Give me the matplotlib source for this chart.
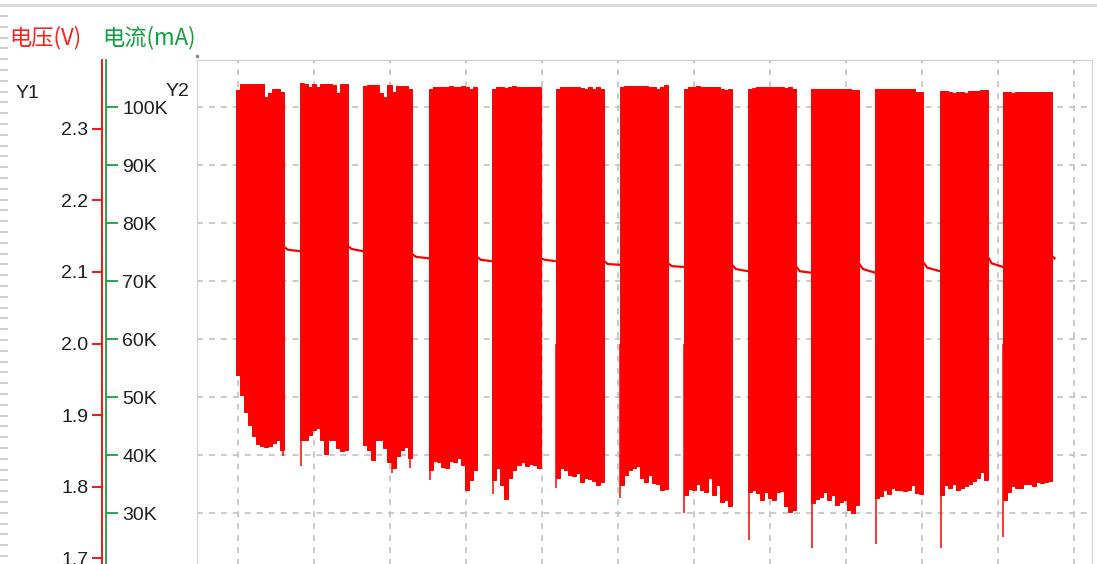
import numpy as np
import matplotlib
matplotlib.use('Agg')
import matplotlib.pyplot as plt
from matplotlib.lines import Line2D

plt.rcParams['font.family'] = ['Liberation Sans', 'DejaVu Sans']
plt.rcParams['lines.scale_dashes'] = False

# ---------------- data (time in s, voltage in V) ----------------
block_start = [-0.26, 8.16, 16.45, 25.13, 33.42, 41.84, 50.26, 58.68, 67.11, 75.39, 83.82, 92.37, 100.66]
block_end = [6.05, 14.47, 22.89, 31.45, 39.87, 48.16, 56.58, 65.00, 73.42, 81.71, 90.13, 98.68, 107.11]

block_top = [
    [2.354, 2.362, 2.362, 2.362, 2.362, 2.362, 2.362, 2.344, 2.350, 2.356, 2.355, 2.352],
    [2.364, 2.362, 2.358, 2.362, 2.358, 2.362, 2.362, 2.362, 2.361, 2.350, 2.362, 2.362],
    [2.360, 2.361, 2.361, 2.361, 2.350, 2.345, 2.361, 2.352, 2.360, 2.360, 2.360, 2.356],
    [2.356, 2.358, 2.358, 2.358, 2.358, 2.359, 2.358, 2.358, 2.360, 2.358, 2.356, 2.358],
    [2.356, 2.358, 2.358, 2.357, 2.358, 2.359, 2.358, 2.358, 2.358, 2.358, 2.358, 2.358],
    [2.356, 2.358, 2.358, 2.358, 2.358, 2.358, 2.357, 2.356, 2.358, 2.356, 2.358, 2.356],
    [2.358, 2.359, 2.359, 2.359, 2.359, 2.359, 2.359, 2.358, 2.358, 2.356, 2.358, 2.361],
    [2.356, 2.358, 2.358, 2.359, 2.358, 2.358, 2.358, 2.358, 2.358, 2.356, 2.354, 2.356],
    [2.356, 2.357, 2.358, 2.358, 2.358, 2.358, 2.358, 2.358, 2.358, 2.357, 2.358, 2.356],
    [2.355, 2.355, 2.356, 2.356, 2.356, 2.356, 2.355, 2.356, 2.356, 2.356, 2.354, 2.354],
    [2.355, 2.355, 2.355, 2.356, 2.355, 2.356, 2.356, 2.355, 2.355, 2.356, 2.352, 2.351],
    [2.353, 2.353, 2.352, 2.350, 2.352, 2.352, 2.350, 2.353, 2.353, 2.353, 2.354, 2.354],
    [2.351, 2.351, 2.350, 2.351, 2.351, 2.352, 2.352, 2.352, 2.352, 2.352, 2.351, 2.351],
]

block_bottom = [
    [1.956, 1.928, 1.904, 1.886, 1.871, 1.860, 1.857, 1.856, 1.857, 1.861, 1.865, 1.851],
    [1.865, 1.865, 1.872, 1.879, 1.882, 1.865, 1.846, 1.865, 1.865, 1.854, 1.850, 1.851],
    [1.858, 1.851, 1.837, 1.865, 1.865, 1.854, 1.834, 1.826, 1.843, 1.851, 1.855, 1.840],
    [1.823, 1.836, 1.834, 1.828, 1.826, 1.836, 1.834, 1.840, 1.830, 1.795, 1.809, 1.823],
    [1.809, 1.826, 1.802, 1.783, 1.812, 1.823, 1.830, 1.835, 1.829, 1.832, 1.830, 1.826],
    [1.812, 1.826, 1.823, 1.816, 1.815, 1.819, 1.807, 1.812, 1.811, 1.808, 1.802, 1.807],
    [1.802, 1.816, 1.823, 1.826, 1.829, 1.812, 1.807, 1.816, 1.805, 1.804, 1.795, 1.797],
    [1.788, 1.797, 1.795, 1.804, 1.795, 1.793, 1.812, 1.788, 1.802, 1.779, 1.781, 1.773],
    [1.793, 1.795, 1.791, 1.781, 1.793, 1.784, 1.781, 1.793, 1.794, 1.773, 1.765, 1.768],
    [1.777, 1.783, 1.786, 1.793, 1.781, 1.788, 1.775, 1.779, 1.781, 1.767, 1.763, 1.775],
    [1.784, 1.787, 1.795, 1.790, 1.798, 1.795, 1.795, 1.794, 1.795, 1.802, 1.791, 1.790],
    [1.788, 1.802, 1.798, 1.804, 1.795, 1.798, 1.801, 1.804, 1.808, 1.812, 1.820, 1.809],
    [1.781, 1.793, 1.801, 1.798, 1.798, 1.804, 1.804, 1.801, 1.807, 1.805, 1.807, 1.808],
]

# idle level between bursts: just after burst, after settling, before next burst
gap_v0 = [2.135, 2.136, 2.125, 2.121, 2.119, 2.115, 2.112, 2.110, 2.108, 2.112, 2.114, 2.121]
gap_v1 = [2.131, 2.132, 2.121, 2.117, 2.117, 2.111, 2.108, 2.104, 2.101, 2.104, 2.106, 2.112]
gap_v2 = [2.129, 2.129, 2.119, 2.115, 2.115, 2.110, 2.107, 2.101, 2.099, 2.099, 2.101, 2.107]
tail_t = [107.11, 107.45]
tail_v = [2.122, 2.119]

spike_t = [5.86, 8.29, 20.26, 22.63, 25.20, 33.55, 41.90, 50.30, 58.75, 67.24, 75.53, 83.95, 92.50, 100.72]
spike_v = [1.843, 1.829, 1.819, 1.826, 1.809, 1.790, 1.798, 1.784, 1.763, 1.726, 1.714, 1.720, 1.714, 1.730]

y1_ticks = [1.7, 1.8, 1.9, 2.0, 2.1, 2.2, 2.3]
y1_labels = ['1.7', '1.8', '1.9', '2.0', '2.1', '2.2', '2.3']
y2_ticks = [20, 30, 40, 50, 60, 70, 80, 90, 100]
y2_labels = ['20K', '30K', '40K', '50K', '60K', '70K', '80K', '90K', '100K']
x_grid = [0, 10, 20, 30, 40, 50, 60, 70, 80, 90, 100, 110]

# ---------------- layout ----------------
W, H = 1097, 564
fig = plt.figure(figsize=(W / 100, H / 100), dpi=100)
fig.patch.set_facecolor('white')

def fx(px):
    return px / W

def fy(py):
    return 1 - py / H

L, R, T, B = 197, 1092, 60, 620
RED = '#ff0000'
GREEN = '#12a040'
BORDER = '#d2d2d2'
GRID = '#c6c6c6'
TXT = '#1e1e1e'

ax_k = fig.add_axes([fx(L), fy(B), (R - L) / W, (B - T) / H])
ax_k.set_xlim(-5.395, 112.37)
ax_k.set_ylim(11.60, 108.16)
ax_v = ax_k.twinx()
ax_v.set_ylim(1.6139, 2.3960)

# grid on the K axis (below the data)
ax_k.set_xticks(x_grid)
ax_k.set_yticks(y2_ticks)
ax_k.set_yticklabels(y2_labels)
ax_k.grid(True, color=GRID, linestyle=(0, (4.3, 4.3)), linewidth=1.3)
ax_k.tick_params(axis='x', length=0, labelbottom=False)
ax_k.yaxis.tick_right()
ax_k.spines['right'].set_position(('axes', (106 - L) / (R - L)))
ax_k.spines['right'].set_color(GREEN)
ax_k.spines['right'].set_linewidth(1.3)
ax_k.tick_params(axis='y', direction='out', length=8.4, width=1.3, color=GREEN,
                 pad=3.4, labelsize=14, labelcolor=TXT)
ax_k.spines['left'].set_color(BORDER)
ax_k.spines['top'].set_color(BORDER)
ax_k.spines['bottom'].set_visible(False)

# voltage axis
ax_v.yaxis.tick_left()
ax_v.set_yticks(y1_ticks)
ax_v.set_yticklabels(y1_labels)
ax_v.spines['left'].set_position(('axes', (102 - L) / (R - L)))
ax_v.spines['left'].set_color(RED)
ax_v.spines['left'].set_linewidth(1.3)
ax_v.tick_params(axis='y', direction='out', length=7.4, width=1.3, color=RED,
                 pad=2.4, labelsize=14, labelcolor=TXT)
ax_v.spines['right'].set_color(BORDER)
ax_v.spines['top'].set_color(BORDER)
ax_v.spines['bottom'].set_visible(False)

# bursts: one rectangle per envelope step
for s, e, top, bot in zip(block_start, block_end, block_top, block_bottom):
    top = np.asarray(top)
    bot = np.asarray(bot)
    edges = np.linspace(s, e, len(top) + 1)
    ax_v.bar(edges[:-1], top - bot, width=np.diff(edges), bottom=bot, align='edge',
             color=RED, edgecolor=RED, linewidth=0.7)

# idle level between bursts
for i in range(len(gap_v0)):
    a, b = block_end[i], block_start[i + 1]
    ax_v.plot([a, a + 0.25 * (b - a), b], [gap_v0[i], gap_v1[i], gap_v2[i]],
              color=RED, lw=1.6, solid_joinstyle='miter')
ax_v.plot(tail_t, tail_v, color=RED, lw=1.6)

# narrow dips
ax_v.vlines(spike_t, spike_v, [2.0] * len(spike_t), color=RED, lw=1.1)

# ---------------- texts & decorations ----------------
cjk = ['Noto Sans CJK SC', 'DejaVu Sans']
fig.text(fx(9), fy(38), '电压(V)', color='#ff1e1e', fontsize=16, family=cjk,
         ha='left', va='center')
fig.text(fx(102), fy(38), '电流(mA)', color=GREEN, fontsize=16, family=cjk,
         ha='left', va='center')
fig.text(fx(27), fy(93), 'Y1', color=TXT, fontsize=14, ha='center', va='center')
fig.text(fx(177), fy(92), 'Y2', color=TXT, fontsize=14, ha='center', va='center')

# top separator line
fig.add_artist(Line2D([0, 1], [fy(5), fy(5)], color='#dadada', lw=2.2))
# left ruler marks
for yy in np.arange(16, H, 10.8):
    fig.add_artist(Line2D([0, fx(7)], [fy(yy), fy(yy)], color='#cfcfcf', lw=1.5))
# corner marker
fig.add_artist(Line2D([fx(197)], [fy(56)], marker='s', ms=2, color='#8a8a8a', lw=0))

fig.savefig('out.png', dpi=100)
